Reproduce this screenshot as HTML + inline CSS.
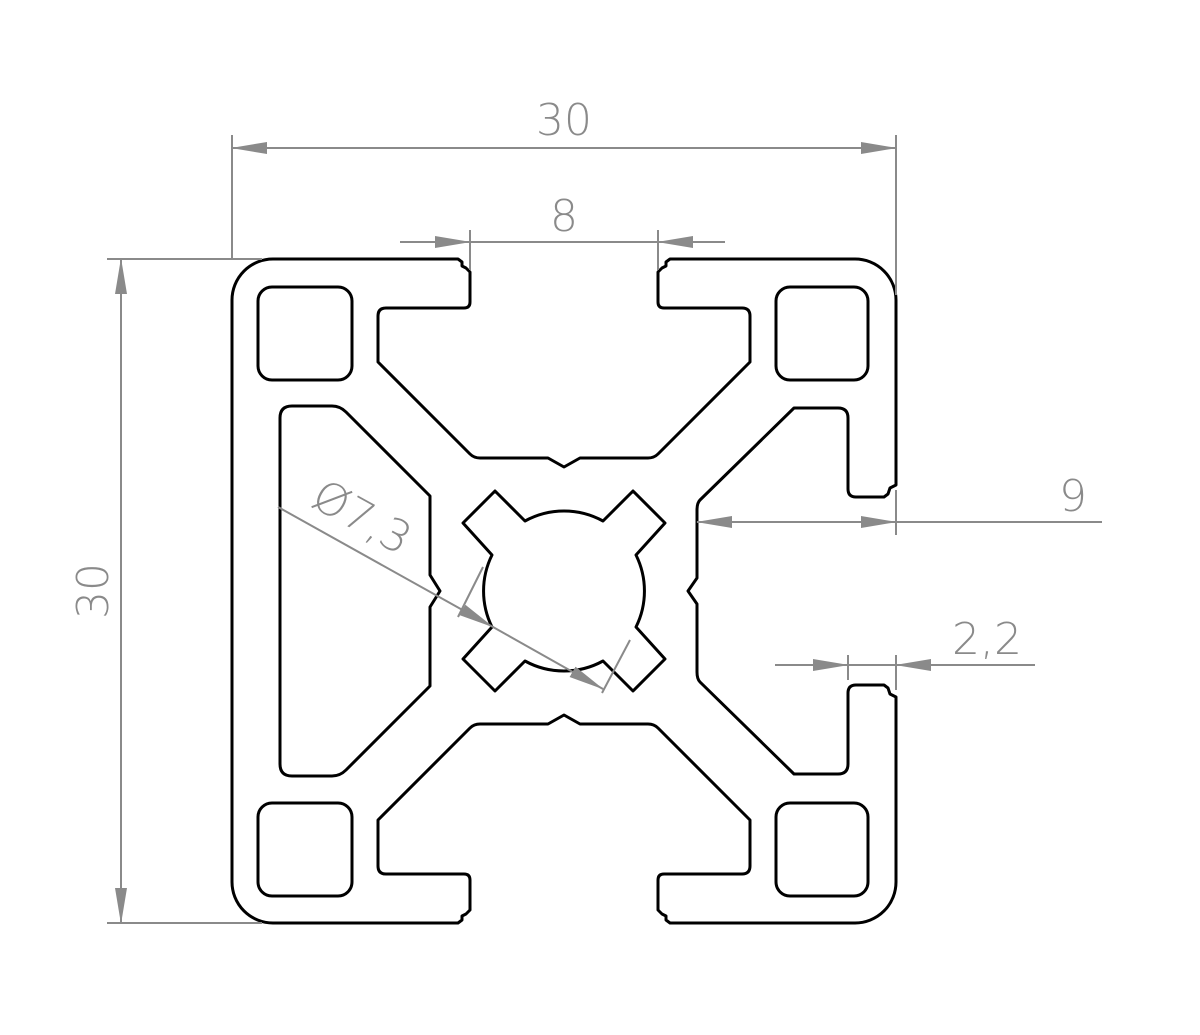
<!DOCTYPE html>
<html><head><meta charset="utf-8"><style>
html,body{margin:0;padding:0;background:#fff;}
svg{display:block;}
text{font-family:"DejaVu Sans","Liberation Sans",sans-serif;font-weight:200;fill:#8a8a8a;}
</style></head><body>
<svg width="1200" height="1035" viewBox="0 0 1200 1035" xmlns="http://www.w3.org/2000/svg">
<defs>
<marker id="a" markerWidth="36" markerHeight="14" refX="35" refY="7" orient="auto" markerUnits="userSpaceOnUse">
<path d="M0,1 L36,7 L0,13 Z" fill="#8a8a8a"/>
</marker>
<marker id="b" markerWidth="36" markerHeight="14" refX="1" refY="7" orient="auto" markerUnits="userSpaceOnUse">
<path d="M36,1 L0,7 L36,13 Z" fill="#8a8a8a"/>
</marker>
</defs>
<g fill="none" stroke="#000" stroke-width="3" stroke-linejoin="round">
<path d="M232,300 A41,41 0 0 1 273,259 L458,259 L462,262 L462,266 L466,268 L470,272 L470,302 Q470,308 464,308 L386,308 Q378,308 378,316 L378,362 L470,454 Q474,458 480,458 L548,458 L564,467 L580,458 L648,458 Q654,458 658,454 L750,362 L750,316 Q750,308 742,308 L664,308 Q658,308 658,302 L658,272 L662,268 L666,266 L666,262 L670,259 L855,259 A41,41 0 0 1 896,300 L896,485 L890,488 L888,494 L884,497 L856,497 Q848,497 848,489 L848,418 Q848,408 838,408 L794,408 L700,500 Q697,503 697,510 L697,578 L688,591 L697,604 L697,672 Q697,679 700,682 L794,774 L838,774 Q848,774 848,764 L848,693 Q848,685 856,685 L884,685 L888,688 L890,694 L896,697 L896,882 A41,41 0 0 1 855,923 L670,923 L666,920 L666,916 L662,914 L658,910 L658,880 Q658,874 664,874 L742,874 Q750,874 750,866 L750,820 L658,728 Q654,724 648,724 L580,724 L564,715 L548,724 L480,724 Q474,724 470,728 L378,820 L378,866 Q378,874 386,874 L464,874 Q470,874 470,880 L470,910 L466,914 L462,916 L462,920 L458,923 L273,923 A41,41 0 0 1 232,882 Z"/>
<rect x="258" y="287" width="94" height="93" rx="14"/>
<rect x="776" y="287" width="92" height="93" rx="14"/>
<rect x="258" y="803" width="94" height="93" rx="14"/>
<rect x="776" y="803" width="92" height="93" rx="14"/>
<path d="M292,406 L332,406 Q340,406 346,412 L430,496 L430,575 L440,591 L430,607 L430,686 L346,770 Q340,776 332,776 L292,776 Q280,776 280,764 L280,418 Q280,406 292,406 Z"/>
<path d="M525,521 L495,491 L463,523 L492,555 A81,81 0 0 0 492,627 L463,659 L495,691 L525,661 A81,81 0 0 0 603,661 L633,691 L665,659 L636,627 A81,81 0 0 0 636,555 L665,523 L633,491 L603,521 A81,81 0 0 0 525,521 Z"/>
</g>
<g stroke="#8a8a8a" stroke-width="2" fill="none">
<line x1="232" y1="135" x2="232" y2="259"/>
<line x1="896" y1="135" x2="896" y2="295"/>
<line x1="232" y1="148" x2="896" y2="148" marker-start="url(#b)" marker-end="url(#a)"/>
<line x1="470" y1="230" x2="470" y2="270"/>
<line x1="658" y1="230" x2="658" y2="270"/>
<line x1="400" y1="242" x2="470" y2="242" marker-end="url(#a)"/>
<line x1="470" y1="242" x2="658" y2="242"/>
<line x1="725" y1="242" x2="658" y2="242" marker-end="url(#a)"/>
<line x1="107" y1="259" x2="262" y2="259"/>
<line x1="107" y1="923" x2="262" y2="923"/>
<line x1="121" y1="259" x2="121" y2="923" marker-start="url(#b)" marker-end="url(#a)"/>
<line x1="896" y1="490" x2="896" y2="535"/>
<line x1="697" y1="522" x2="896" y2="522" marker-start="url(#b)" marker-end="url(#a)"/>
<line x1="896" y1="522" x2="1102" y2="522"/>
<line x1="848" y1="655" x2="848" y2="680"/>
<line x1="896" y1="655" x2="896" y2="690"/>
<line x1="775" y1="665" x2="848" y2="665" marker-end="url(#a)"/>
<line x1="848" y1="665" x2="896" y2="665"/>
<line x1="1035" y1="665" x2="896" y2="665" marker-end="url(#a)"/>
<line x1="278" y1="507" x2="493" y2="627" marker-end="url(#a)"/>
<line x1="493" y1="627" x2="603" y2="689" marker-end="url(#a)"/>
<line x1="483" y1="567" x2="458" y2="617"/>
<line x1="630" y1="640" x2="602" y2="693"/>
</g>
<text x="564" y="135" font-size="44" text-anchor="middle">30</text>
<text x="564" y="231" font-size="44" text-anchor="middle">8</text>
<text x="0" y="0" font-size="44" text-anchor="middle" transform="translate(108,591) rotate(-90)">30</text>
<text x="1073" y="511" font-size="44" text-anchor="middle">9</text>
<text x="987" y="654" font-size="44" text-anchor="middle">2,2</text>
<text x="0" y="0" font-size="44" transform="translate(309,505) rotate(29)">Ø7,3</text>
</svg>
</body></html>
